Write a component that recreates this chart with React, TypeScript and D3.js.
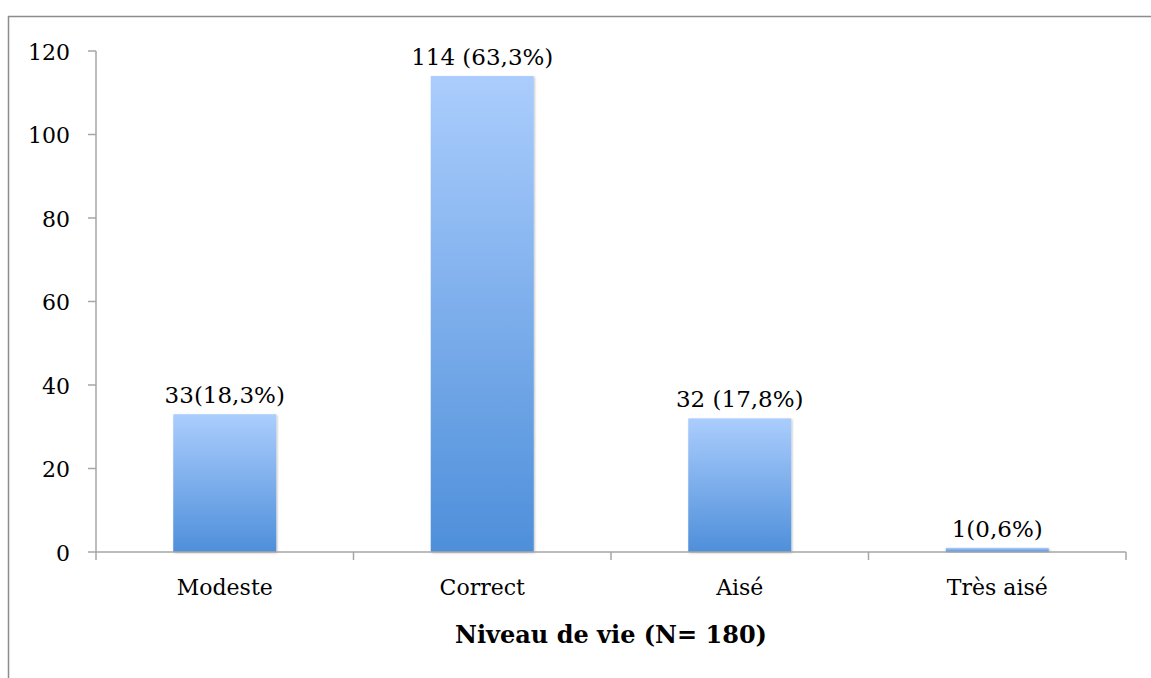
import * as React from 'react';
import {scaleLinear, scaleBand} from 'd3';

const categories = ['Modeste', 'Correct', 'Aisé', 'Très aisé'];
const counts = [33, 114, 32, 1];
const valueLabels = ['33(18,3%)', '114 (63,3%)', '32 (17,8%)', '1(0,6%)'];
const yTicks = [0, 20, 40, 60, 80, 100, 120];
const axisTitle = 'Niveau de vie (N= 180)';

const W = 1151;
const H = 678;
const FONT = '"DejaVu Serif", "Liberation Serif", serif';
const AXIS_COLOR = '#a6a6a6';

export default function App() {
  const margins = {left: 96, right: 25, top: 51, bottom: 126};
  const plotWidth = W - margins.left - margins.right;
  const plotHeight = H - margins.top - margins.bottom;

  const x = scaleBand<string>().domain(categories).range([0, plotWidth])
    .paddingInner(0.6).paddingOuter(0.3);
  const y = scaleLinear().domain([0, 120]).range([plotHeight, 0]);
  const band = plotWidth / categories.length;

  return <svg width={W} height={H} style={{position: 'absolute', left: 0, top: 0}}>
    <defs>
      <linearGradient id="barFill" x1="0" y1="0" x2="0" y2="1">
        <stop offset="0%" stopColor="#abcdfd" />
        <stop offset="100%" stopColor="#4e8fda" />
      </linearGradient>
      <filter id="shadow" x="-10%" y="-10%" width="120%" height="120%">
        <feDropShadow dx="1" dy="1" stdDeviation="1.2" floodColor="#000" floodOpacity="0.25" />
      </filter>
    </defs>
    <rect x={8.5} y={16.5} width={W} height={H} fill="#fff" stroke="#8c8c8c" strokeWidth={1.5} />
    <g transform={`translate(${margins.left}, ${margins.top})`}>
      {categories.map((c, i) => {
        const bx = x(c) as number;
        const by = y(counts[i]);
        return <g key={c}>
          <rect x={bx} y={by} width={x.bandwidth()} height={Math.max(plotHeight - by, 2)}
            fill="url(#barFill)" filter="url(#shadow)" />
          <text x={bx + x.bandwidth() / 2} y={by - 11} textAnchor="middle"
            fontFamily={FONT} fontSize={23} fill="#000">{valueLabels[i]}</text>
          <text x={band * i + band / 2} y={plotHeight + 43} textAnchor="middle"
            fontFamily={FONT} fontSize={22} fill="#000">{c}</text>
        </g>;
      })}
      {/* y axis */}
      <line x1={0} x2={0} y1={0} y2={plotHeight + 8} stroke={AXIS_COLOR} strokeWidth={1.5} />
      {yTicks.map((t) => <g key={t}>
        <line x1={-8} x2={0} y1={y(t)} y2={y(t)} stroke={AXIS_COLOR} strokeWidth={1.5} />
        <text x={-26} y={y(t)} dy="0.4em" textAnchor="end"
          fontFamily={FONT} fontSize={22} fill="#000">{t}</text>
      </g>)}
      {/* x axis */}
      <line x1={0} x2={plotWidth} y1={plotHeight} y2={plotHeight} stroke={AXIS_COLOR} strokeWidth={1.5} />
      {categories.map((c, i) => <line key={c} x1={band * (i + 1)} x2={band * (i + 1)}
        y1={plotHeight} y2={plotHeight + 8} stroke={AXIS_COLOR} strokeWidth={1.5} />)}
      <text x={plotWidth / 2} y={plotHeight + 91} textAnchor="middle"
        fontFamily={FONT} fontSize={24} fontWeight="bold" fill="#000">{axisTitle}</text>
    </g>
  </svg>;
}
